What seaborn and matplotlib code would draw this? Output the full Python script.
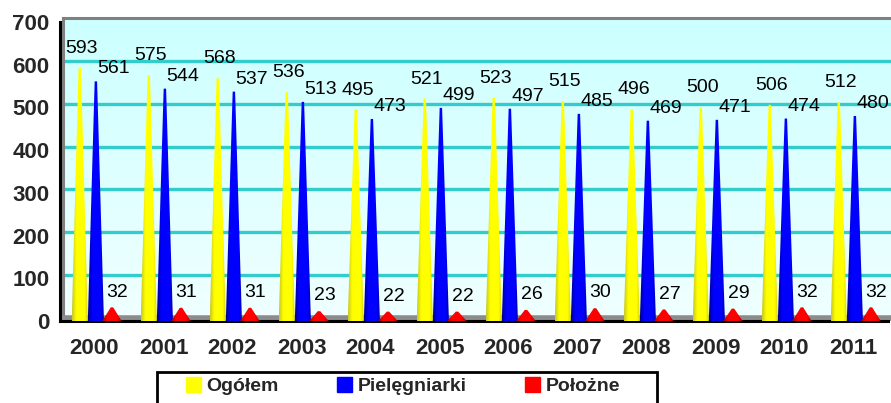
import matplotlib
matplotlib.use("Agg")
import matplotlib.pyplot as plt
import seaborn as sns
import numpy as np
import pandas as pd
from matplotlib.patches import Polygon, Rectangle, Patch
from matplotlib.colors import LinearSegmentedColormap, to_rgba
from matplotlib import font_manager

# ---------------- data ----------------
years = ["2000", "2001", "2002", "2003", "2004", "2005",
         "2006", "2007", "2008", "2009", "2010", "2011"]
ogolem = [593, 575, 568, 536, 495, 521, 523, 515, 496, 500, 506, 512]
pielegniarki = [561, 544, 537, 513, 473, 499, 497, 485, 469, 471, 474, 480]
polozne = [32, 31, 31, 23, 22, 22, 26, 30, 27, 29, 32, 32]
series_names = ["Ogółem", "Pielęgniarki", "Położne"]
y_ticks = [0, 100, 200, 300, 400, 500, 600, 700]

series_values = [ogolem, pielegniarki, polozne]
colors = ["#ffff00", "#0000ff", "#ff0000"]
dark_colors = ["#c8c820", "#00008c", "#a00000"]

df = pd.DataFrame({
    "year": np.tile(years, 3),
    "value": np.concatenate(series_values),
    "series": np.repeat(series_names, len(years)),
})

# ---------------- fonts ----------------
sns.set_theme(style="white")
plt.rcParams["font.family"] = ["Liberation Sans", "DejaVu Sans"]
names = {f.name for f in font_manager.fontManager.ttflist}
label_family = "Liberation Sans Narrow" if "Liberation Sans Narrow" in names else "Liberation Sans"
label_size = 15 if label_family == "Liberation Sans Narrow" else 14

W, H = 891, 403
fig = plt.figure(figsize=(W / 100, H / 100), dpi=100)
fig.patch.set_facecolor("white")


def rect(l, b, r, t):
    return [l / W, 1 - b / H, (r - l) / W, (b - t) / H]


# ---------------- back wall (3D look) ----------------
back = fig.add_axes(rect(63, 318, 893, 18))
back.set_xlim(0, 1)
back.set_ylim(0, 700)
cmap = LinearSegmentedColormap.from_list("wall", ["#ccffff", "#f0ffff"])
back.imshow(np.linspace(0, 1, 256).reshape(-1, 1), cmap=cmap,
            extent=[0, 1, 0, 700], aspect="auto", origin="upper", zorder=0)
for yv in y_ticks[1:-1]:
    back.axhline(yv, color="#33cccc", lw=2.4, zorder=1)
back.set_xticks([])
back.set_yticks([])
for s in ["top", "left"]:
    back.spines[s].set_color("#808080")
    back.spines[s].set_linewidth(2.2)
back.spines["bottom"].set_color("#8c8c8c")
back.spines["bottom"].set_linewidth(4)
back.spines["right"].set_visible(False)

# ---------------- front axes ----------------
ax = fig.add_axes(rect(60, 321, 888, 22))
ax.patch.set_alpha(0)
sns.barplot(data=df, x="year", y="value", hue="series", palette=colors,
            hue_order=series_names, order=years, width=0.7, saturation=1,
            legend=False, ax=ax)

shift = 0.02
tip = 0.035
width_scale = [1.0, 1.0, 1.2]
bars = list(ax.patches)
for p in bars:
    x0, w, h = p.get_x() + shift, p.get_width(), p.get_height()
    fc = np.array(p.get_facecolor())
    idx = int(np.argmin([np.abs(np.array(to_rgba(c)) - fc).sum() for c in colors]))
    xc = x0 + w / 2
    hw = w * width_scale[idx] / 2
    verts = [(xc - hw, 0), (xc - tip / 2, h), (xc + tip / 2, h), (xc + hw, 0)]
    poly = Polygon(verts, closed=True, facecolor="none", edgecolor="none", zorder=3)
    ax.add_patch(poly)
    grad = LinearSegmentedColormap.from_list(
        "cone", [dark_colors[idx], colors[idx], colors[idx], colors[idx], dark_colors[idx]])
    im = ax.imshow(np.linspace(0, 1, 64).reshape(1, -1), cmap=grad,
                   extent=[xc - hw, xc + hw, 0, h], aspect="auto", zorder=3)
    im.set_clip_path(poly)
    p.remove()

    # value label
    val = int(round(h))
    if idx == 0:
        off = (1.5, 14)
    elif idx == 1:
        off = (13, 9)
    else:
        off = (4, 11)
    ax.annotate(str(val), (xc, h), xytext=off, textcoords="offset points",
                ha="center", va="center", fontsize=label_size, color="black",
                family=[label_family, "DejaVu Sans"], zorder=5)

ax.set_xlim(-0.5, len(years) - 0.5)
ax.set_ylim(0, 700)
ax.set_yticks(y_ticks)
ax.set_yticklabels([str(v) for v in y_ticks], fontsize=16, fontweight="bold")
ax.set_xticks(np.arange(-0.5, len(years), 1.0))
ax.set_xticklabels([])
ax.set_xticks(np.arange(len(years)), minor=True)
ax.set_xticklabels(years, minor=True, fontsize=16, fontweight="bold")
ax.tick_params(axis="x", which="minor", length=0, pad=12)
ax.tick_params(axis="x", which="major", direction="out", length=5, width=2, color="black")
ax.tick_params(axis="y", direction="out", length=4, width=2, color="black", pad=3.5)
ax.set_xlabel("")
ax.set_ylabel("")
for s in ["top", "right"]:
    ax.spines[s].set_visible(False)
for s in ["left", "bottom"]:
    ax.spines[s].set_color("black")
    ax.spines[s].set_linewidth(2.2)

# ---------------- legend ----------------
handles = [Patch(facecolor=c, edgecolor=c) for c in colors]
fig.add_artist(Rectangle((157 / W, 1 - 412 / H), 500 / W, 40 / H,
                         transform=fig.transFigure, fill=True, facecolor="white",
                         edgecolor="black", lw=2, zorder=1))
leg = fig.legend(handles, series_names, loc="upper left",
                 bbox_to_anchor=(186 / W, 1 - 377 / H), ncol=3, frameon=False,
                 borderpad=0, borderaxespad=0, handlelength=0.78, handleheight=0.78,
                 handletextpad=0.28, columnspacing=3.0,
                 prop={"weight": "bold", "size": 14})
leg.set_zorder(2)

fig.savefig("out.png", dpi=100)
